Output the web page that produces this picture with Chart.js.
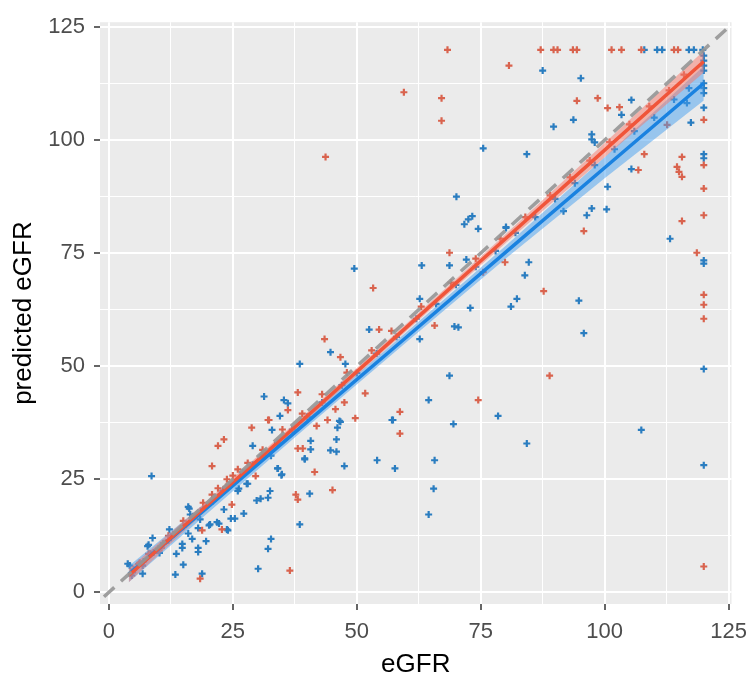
<!DOCTYPE html>
<html>
<head>
<meta charset="utf-8">
<script src="https://cdn.jsdelivr.net/npm/chart.js@4.4.1/dist/chart.umd.min.js"></script>
<style>
  html, body { margin: 0; padding: 0; background: #ffffff; }
  #chart-egfr { display: block; }
</style>
</head>
<body>
<canvas id="chart-egfr" width="756" height="678"></canvas>
<script>
// measured vs predicted eGFR, two groups (red / blue)
const redPoints = [
  [68.3,120],[87.1,120],[89.7,120],[90.5,120],[93.6,120],[94.4,120],[101.4,120],[103.4,120],[107.4,120],[114,120],[114.8,120],
  [120,104.5],[120,94.5],[120,89.3],[120,83.4],[120,65.8],[120,63.6],[120,60.5],[120,5.7],
  [118.6,75.1],[115.6,96.3],[114.6,94.1],[115,93],[115.6,91.9],[115.6,82.1],[112.6,103.4],[108,96.9],[106.8,93.4],[103,107.3],
  [100.6,107.1],[98.6,109.3],[94.4,108.7],[80.7,116.5],[95.8,79.9],[59.5,110.6],[67.1,109.3],[67.1,104.3],[43.7,96.3],
  [68.7,75.1],[79.9,73],[75.5,70.8],[87.7,66.6],[65.7,59],[88.9,47.9],[74.5,42.5],[58.7,39.9],[58.7,35.1],[53.3,67.3],
  [54.5,58.1],[43.5,56],[46.7,52],[38.1,44.2],[36.1,40.3],[32.3,38.1],[28.8,36.4],[23.2,33.8],[22,32.4],[20.8,27.9],
  [38.1,31.8],[39.1,31.8],[41.9,36.8],[45.7,40.5],[47.5,42],[49.7,38.5],[51.7,44],[41.5,26.6],[45.1,22.6],[37.7,21.6],
  [38.1,20.5],[32.1,38.1],[29.6,25.7],[22.8,13.9],[24.8,19.4],[36.5,4.8],[18.4,3.0],[6.2,6.5],[10.6,9.8],[18.8,13.7],
  [20.8,21.6],[23.8,25],[24.2,23.7],[23.6,23.3],[44.1,38.1],
  [8,8.5],[12,12.5],[15,15.8],[19,19.8],[22,23],[25,25.8],[26,27.2],[28,28.6],[31,31.5],[35,36],[39,39.5],[43,43.8],
  [48,48.6],[53,53.5],[57,57.8],[63,63.2],[69,68.5],[74,73.8],[79,78.2],[84,83],[89,87.8],[93,91.8],[97,95.5],
  [101,99.6],[105,103.5],[109,107.5],[113,111],[116,114.5]
];

const bluePoints = [
  [108,120],[110.6,120],[111.6,120],[117,120],[118,120],[119.8,120],
  [120,118.7],[120,117.6],[120,116.5],[120,115.4],[120,112.6],[120,111.5],[120,110.4],[120,107.2],[120,96.9],[120,96],
  [120,73.4],[120,72.7],[120,49.4],[120,28.1],
  [87.5,115.4],[95.2,113.7],[105.4,108.9],[103.4,105.6],[93.7,104.5],[89.7,103],[97.4,101.3],[97.4,100.2],[98,99.5],
  [84.3,96.9],[105.4,93.6],[100.6,89.7],[91.7,84.3],[97.4,84.9],[96.4,83.4],[100.4,84.7],[80.1,80.6],[117.4,103.9],
  [116.6,108.2],[75.5,98.2],[70.1,87.5],[71.7,81.4],[72.5,82.5],[73.3,83.2],[74.5,80.4],[80.1,80.8],[63.1,72.3],
  [68.7,72.3],[72.1,73.6],[84.7,73],[83.9,70.1],[62.7,64.9],[72.9,62.9],[82.3,64.9],[81.1,63.2],[94.8,64.5],[95.8,57.3],
  [69.7,58.8],[70.5,58.6],[62.7,56],[68.7,47.9],[64.5,42.5],[57.1,38.1],[78.5,39],[69.5,37.2],[84.3,32.9],[107.4,35.9],
  [113.2,78.2],[65.7,29.2],[65.5,22.9],[64.5,17.2],[49.5,71.6],
  [52.5,58.1],[44.7,53.1],[47.7,50.5],[38.5,50.5],[31.3,43.3],[35.3,42.5],[36.1,41.8],[34.5,39],[32.9,35.9],[29,32.4],
  [8.6,25.7],[40.7,33.5],[40.7,31.6],[46.1,36.4],[45.9,33.8],[46.5,37.9],[44.7,31.4],[47.5,27.9],[39.5,29.6],[57.3,38.1],
  [54.1,29.2],[32.7,30.2],[34.1,27.4],[34.9,26.1],[45.9,31.1],[46.7,37.7],[57.7,27.4],[38.5,15],[32.7,11.8],[32.1,9.6],
  [30.1,5.2],[18.8,4.1],[13.4,3.9],[15,6.1],[13.6,8.5],[14.8,9.8],[14.8,10.7],[16.8,11.8],[16,13],[18,14.2],[19.6,11.3],
  [18.4,16.1],[20.2,14.8],[22.2,15.2],[23.8,13.9],[23.2,18.3],[24.6,16.3],[27.2,17.4],[12.2,13.9],[8.8,12],[8,10.5],
  [10.2,8.7],[8.4,8.5],[6.8,5.9],[4.2,5.9],[4.8,4.4],[16.2,18.5],[16.4,17.2],[29.8,20.3],[30.6,20.7],[32.1,20.9],
  [32.5,22.4],[26,22.4],[28,24],[40.5,21.8],[3.8,6.3],[4.6,3.7],[6.8,4.1],[7.8,10.2],[18,9.8],[18,8.9],[16,18.9],
  [20.4,15],[21.8,15.5],[24,13.7],[25.4,16.3],[27.8,24],[26.2,22.9],[34,27.4],[34.8,25.9],[39.5,29.4],
  [5,5],[6,6.2],[7,6.8],[9,8.8],[10,9.6],[11,10.8],[12,11.5],[13,12.8],[15,14.5],[17,16.8],[19,18.5],[21,20.2],
  [23,22.5],[25,24.2],[27,26.5],[29,28.2],[31,30.3],[34,33],[37,36],[40,38.8],[43,42],[47,45.8],[50,48.5],[54,52.8],
  [58,56.5],[62,60.5],[66,63.8],[70,68],[74,72],[78,75.5],[82,79.5],[86,83],[90,87],[94,90.5],[98,94.5],[102,98],
  [106,102],[110,105],[114,109],[117,111.5]
];

// fitted lines with confidence bands
const fitX    = [4, 20, 40, 60, 80, 100, 120];
const redFit  = [3.7, 19.4, 39.0, 58.6, 78.2, 97.8, 117.4];
const redLo   = [2.2, 18.4, 38.2, 57.8, 77.2, 96.2, 115.0];
const redHi   = [5.2, 20.4, 39.8, 59.4, 79.2, 99.4, 119.8];
const blueFit = [4.0, 18.9, 37.7, 56.4, 75.2, 93.9, 112.6];
const blueLo  = [2.2, 17.6, 36.6, 55.3, 73.8, 91.6, 108.8];
const blueHi  = [5.8, 20.2, 38.8, 57.5, 76.6, 96.2, 116.4];

const identityLine = [-1, 124.5];
const axisTicks = [0, 12.5, 25, 37.5, 50, 62.5, 75, 87.5, 100, 112.5, 125];

const toXY = pts => pts.map(p => ({ x: p[0], y: p[1] }));
const curve = ys => fitX.map((x, i) => ({ x: x, y: ys[i] }));

const isMajor = v => v % 25 === 0;

const panelBg = {
  id: 'panelBg',
  beforeDraw(chart) {
    const { ctx, chartArea: a } = chart;
    ctx.save();
    ctx.fillStyle = '#EBEBEB';
    ctx.fillRect(a.left, a.top, a.right - a.left, a.bottom - a.top);
    ctx.restore();
  }
};

function axisOpts(min, max, titleText, isY) {
  return {
    type: 'linear',
    min: min,
    max: max,
    afterBuildTicks: scale => { scale.ticks = axisTicks.map(v => ({ value: v })); },
    afterFit: scale => {
      if (isY) scale.width = 100; else scale.height = 74;
    },
    border: { display: false },
    grid: {
      color: '#FFFFFF',
      lineWidth: ctx => (ctx.tick && isMajor(ctx.tick.value)) ? 2 : 1,
      drawTicks: true,
      tickLength: 6,
      tickWidth: 1.5,
      tickColor: ctx => (ctx.tick && isMajor(ctx.tick.value)) ? '#333333' : 'rgba(0,0,0,0)'
    },
    ticks: {
      padding: 9,
      color: '#4D4D4D',
      font: { family: 'Liberation Sans, Arial, sans-serif', size: 22 },
      callback: v => isMajor(v) ? String(v) : ''
    },
    title: {
      display: true,
      text: titleText,
      color: '#000000',
      font: { family: 'Liberation Sans, Arial, sans-serif', size: 26, lineHeight: 1 },
      padding: isY ? { top: 11, bottom: 0 } : { top: 0, bottom: 0 }
    }
  };
}

new Chart(document.getElementById('chart-egfr'), {
  type: 'scatter',
  data: {
    datasets: [
      {
        label: 'identity',
        data: identityLine.map(v => ({ x: v, y: v })),
        showLine: true,
        borderColor: 'rgba(150,150,150,0.9)',
        borderWidth: 3.5,
        borderDash: [14, 9],
        pointRadius: 0,
        order: 1
      },
      {
        label: 'red fit',
        data: curve(redFit),
        showLine: true,
        borderColor: '#F0553A',
        borderWidth: 3.5,
        pointRadius: 0,
        order: 2
      },
      {
        label: 'blue fit',
        data: curve(blueFit),
        showLine: true,
        borderColor: '#1A82E0',
        borderWidth: 3.5,
        pointRadius: 0,
        order: 2
      },
      {
        label: 'red lower',
        data: curve(redLo),
        showLine: true,
        borderWidth: 0,
        borderColor: 'rgba(0,0,0,0)',
        pointRadius: 0,
        order: 3
      },
      {
        label: 'red upper',
        data: curve(redHi),
        showLine: true,
        borderWidth: 0,
        borderColor: 'rgba(0,0,0,0)',
        backgroundColor: 'rgba(248,120,105,0.5)',
        fill: '-1',
        pointRadius: 0,
        order: 3
      },
      {
        label: 'blue lower',
        data: curve(blueLo),
        showLine: true,
        borderWidth: 0,
        borderColor: 'rgba(0,0,0,0)',
        pointRadius: 0,
        order: 3
      },
      {
        label: 'blue upper',
        data: curve(blueHi),
        showLine: true,
        borderWidth: 0,
        borderColor: 'rgba(0,0,0,0)',
        backgroundColor: 'rgba(70,160,240,0.5)',
        fill: '-1',
        pointRadius: 0,
        order: 3
      },
      {
        label: 'red',
        data: toXY(redPoints),
        pointStyle: 'cross',
        pointRadius: 3.5,
        borderWidth: 2.2,
        borderColor: '#D9634E',
        backgroundColor: '#D9634E',
        order: 4
      },
      {
        label: 'blue',
        data: toXY(bluePoints),
        pointStyle: 'cross',
        pointRadius: 3.5,
        borderWidth: 2.2,
        borderColor: '#2A7DC0',
        backgroundColor: '#2A7DC0',
        order: 5
      }
    ]
  },
  options: {
    responsive: false,
    animation: false,
    layout: { padding: { top: 13, right: 19, left: 0, bottom: 0 } },
    plugins: {
      legend: { display: false },
      tooltip: { enabled: false }
    },
    scales: {
      x: axisOpts(-1.8, 125.6, 'eGFR', false),
      y: axisOpts(-2.6, 126.1, 'predicted eGFR', true)
    }
  },
  plugins: [panelBg]
});
</script>
</body>
</html>
